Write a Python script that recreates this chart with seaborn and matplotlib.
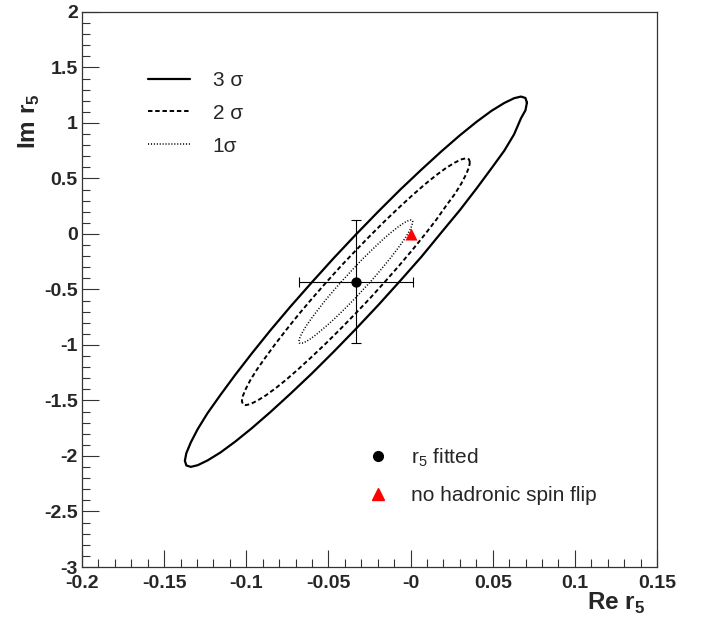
import pandas as pd
import seaborn as sns
import matplotlib.pyplot as plt
from matplotlib.lines import Line2D
from matplotlib.ticker import MultipleLocator

# contour points (Re r5, Im r5)
re_1s = [0.0014, 0.0011, 0.0002, -0.0012, -0.0032, -0.0058, -0.0088, -0.0122, -0.0160, -0.0200, -0.0243, -0.0288,
         -0.0333, -0.0378, -0.0423, -0.0466, -0.0507, -0.0544, -0.0578, -0.0608, -0.0634, -0.0654, -0.0668, -0.0677,
         -0.0680, -0.0677, -0.0668, -0.0654, -0.0634, -0.0608, -0.0578, -0.0544, -0.0507, -0.0466, -0.0423, -0.0378,
         -0.0333, -0.0288, -0.0243, -0.0200, -0.0160, -0.0122, -0.0088, -0.0058, -0.0032, -0.0012, 0.0002, 0.0011, 0.0014]
im_1s = [0.108, 0.122, 0.126, 0.121, 0.107, 0.083, 0.050, 0.010, -0.038, -0.093, -0.154, -0.219,
         -0.288, -0.360, -0.432, -0.505, -0.576, -0.645, -0.710, -0.770, -0.825, -0.873, -0.913, -0.945,
         -0.968, -0.982, -0.986, -0.981, -0.967, -0.943, -0.910, -0.868, -0.822, -0.767, -0.706, -0.640,
         -0.572, -0.499, -0.428, -0.355, -0.284, -0.215, -0.150, -0.090, -0.035, 0.015, 0.053, 0.094, 0.108]

re_2s = [0.0361, 0.0355, 0.0337, 0.0309, 0.0269, 0.0217, 0.0157, 0.0089, 0.0014, -0.0067, -0.0153, -0.0242,
         -0.0333, -0.0424, -0.0513, -0.0599, -0.0680, -0.0755, -0.0823, -0.0883, -0.0935, -0.0975, -0.1003, -0.1021,
         -0.1027, -0.1021, -0.1003, -0.0975, -0.0935, -0.0883, -0.0823, -0.0755, -0.0680, -0.0599, -0.0513, -0.0424,
         -0.0333, -0.0242, -0.0153, -0.0067, 0.0014, 0.0089, 0.0157, 0.0217, 0.0269, 0.0309, 0.0337, 0.0355, 0.0361]
im_2s = [0.645, 0.673, 0.682, 0.672, 0.643, 0.596, 0.531, 0.450, 0.353, 0.243, 0.122, -0.009,
         -0.147, -0.289, -0.435, -0.580, -0.722, -0.860, -0.990, -1.111, -1.220, -1.315, -1.395, -1.459,
         -1.505, -1.533, -1.542, -1.532, -1.503, -1.456, -1.391, -1.310, -1.213, -1.103, -0.982, -0.851,
         -0.713, -0.571, -0.425, -0.280, -0.138, 0.000, 0.130, 0.256, 0.360, 0.455, 0.535, 0.599, 0.645]

re_3s = [0.0708, 0.0699, 0.0672, 0.0630, 0.0570, 0.0492, 0.0402, 0.0300, 0.0188, 0.0066, -0.0064, -0.0197,
         -0.0333, -0.0469, -0.0602, -0.0732, -0.0854, -0.0966, -0.1068, -0.1158, -0.1236, -0.1296, -0.1338, -0.1365,
         -0.1374, -0.1365, -0.1338, -0.1296, -0.1236, -0.1158, -0.1068, -0.0966, -0.0854, -0.0732, -0.0602, -0.0469,
         -0.0333, -0.0197, -0.0064, 0.0066, 0.0188, 0.0300, 0.0402, 0.0492, 0.0570, 0.0630, 0.0672, 0.0699, 0.0708]
im_3s = [1.183, 1.225, 1.238, 1.223, 1.180, 1.109, 1.011, 0.889, 0.745, 0.580, 0.398, 0.202,
         -0.005, -0.219, -0.437, -0.655, -0.869, -1.075, -1.270, -1.451, -1.614, -1.758, -1.878, -1.974,
         -2.043, -2.085, -2.098, -2.083, -2.040, -1.969, -1.871, -1.749, -1.605, -1.440, -1.258, -1.062,
         -0.855, -0.641, -0.423, -0.205, 0.015, 0.215, 0.411, 0.591, 0.750, 0.898, 1.043, 1.114, 1.183]

fit_re, fit_im = -0.0333, -0.43
fit_re_err, fit_im_err = 0.0347, 0.555
noflip_re, noflip_im = 0.0, 0.0

x_ticks = [-0.2, -0.15, -0.1, -0.05, 0.0, 0.05, 0.1, 0.15]
x_labels = ["-0.2", "-0.15", "-0.1", "-0.05", "-0", "0.05", "0.1", "0.15"]
y_ticks = [-3, -2.5, -2, -1.5, -1, -0.5, 0, 0.5, 1, 1.5, 2]
y_labels = ["-3", "-2.5", "-2", "-1.5", "-1", "-0.5", "0", "0.5", "1", "1.5", "2"]

sns.set_style("white")
plt.rcParams['font.family'] = ['Liberation Sans', 'DejaVu Sans']
plt.rcParams['mathtext.fontset'] = 'custom'
plt.rcParams['mathtext.rm'] = 'Liberation Sans'
plt.rcParams['lines.scale_dashes'] = False

fig = plt.figure(figsize=(7.01, 6.3), dpi=100)
ax = fig.add_axes([0.117, 0.1, 0.8203, 0.881])

solid = '-'
dashed = (0, (3.2, 2.0))
dotted = (0, (0.8, 1.3))

for re, im, ls, lw in [(re_3s, im_3s, solid, 1.6), (re_2s, im_2s, dashed, 1.4), (re_1s, im_1s, dotted, 1.1)]:
    df = pd.DataFrame({'re': re, 'im': im})
    sns.lineplot(data=df, x='re', y='im', sort=False, estimator=None, color='black',
                 linewidth=lw, linestyle=ls, ax=ax)

ax.errorbar([fit_re], [fit_im], xerr=[fit_re_err], yerr=[fit_im_err], fmt='none',
            ecolor='black', elinewidth=0.8, capsize=3.5, capthick=0.8, zorder=4)
sns.scatterplot(x=[fit_re], y=[fit_im], color='black', marker='o', s=55, edgecolor='black',
                linewidth=0, ax=ax, zorder=5)
sns.scatterplot(x=[noflip_re], y=[noflip_im], color='red', marker='^', s=75, edgecolor='red',
                linewidth=0, ax=ax, zorder=5)

ax.set_xlim(-0.2, 0.15)
ax.set_ylim(-3, 2)
ax.set_xticks(x_ticks)
ax.set_xticklabels(x_labels)
ax.set_yticks(y_ticks)
ax.set_yticklabels(y_labels)
ax.xaxis.set_minor_locator(MultipleLocator(0.01))
ax.yaxis.set_minor_locator(MultipleLocator(0.1))
ax.tick_params(which='both', direction='in', bottom=True, left=True, top=False, right=False,
               color='#333333', width=0.8)
ax.tick_params(which='major', length=12)
ax.tick_params(which='minor', length=6)
ax.tick_params(axis='x', pad=6)
ax.tick_params(axis='y', pad=3)
for lab in ax.get_xticklabels() + ax.get_yticklabels():
    lab.set_fontsize(14)
    lab.set_fontweight('bold')
for sp in ax.spines.values():
    sp.set_color('#333333')
    sp.set_linewidth(0.9)

ax.set_xlabel(r'Re r$_\mathregular{5}$', fontsize=17.5, fontweight='bold', ha='right')
ax.xaxis.set_label_coords(0.979, -0.043)
ax.set_ylabel(r'Im r$_\mathregular{5}$', fontsize=17.5, fontweight='bold')
ax.yaxis.set_label_coords(-0.07, 0.804)

h_sig = [Line2D([], [], color='black', lw=1.6, ls=solid),
         Line2D([], [], color='black', lw=1.4, ls=dashed),
         Line2D([], [], color='black', lw=1.1, ls=dotted)]
leg1 = ax.legend(h_sig, ['3 σ', '2 σ', '1σ'], loc='upper left', bbox_to_anchor=(0.1148, 0.894),
                 frameon=False, fontsize=15, handlelength=2.0, handletextpad=1.1,
                 borderpad=0, borderaxespad=0, labelspacing=0.67)
ax.add_artist(leg1)

h_pts = [Line2D([], [], color='black', marker='o', ls='none', markersize=7),
         Line2D([], [], color='red', marker='^', ls='none', markersize=8)]
ax.legend(h_pts, [r'r$_\mathregular{5}$ fitted', 'no hadronic spin flip'], loc='upper left',
          bbox_to_anchor=(0.4967, 0.218), frameon=False, fontsize=15, handlelength=1.0,
          handletextpad=1.09, borderpad=0, borderaxespad=0, labelspacing=0.84)

fig.savefig('out.png', dpi=100)
